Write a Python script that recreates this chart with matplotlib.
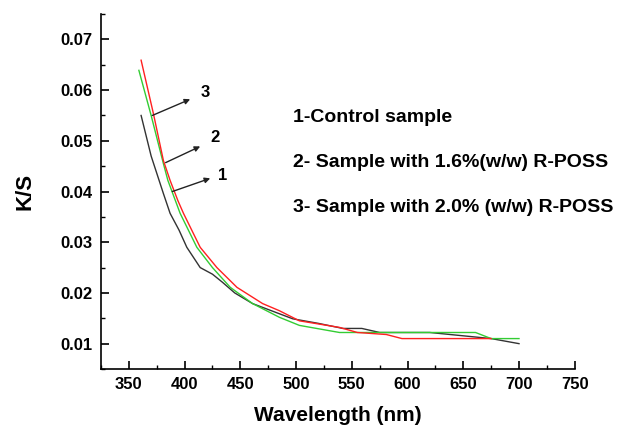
import matplotlib
matplotlib.use("Agg")
import matplotlib.pyplot as plt
from matplotlib.ticker import MultipleLocator

plt.rcParams['font.family'] = ['Liberation Sans', 'DejaVu Sans']

# Data
wl_control = [361, 370, 381, 387, 395, 402, 414, 425, 434, 445, 461, 485, 497, 520, 542, 559, 575, 620, 675, 700]
ks_control = [0.055, 0.047, 0.0396, 0.0357, 0.0324, 0.029, 0.025, 0.0237, 0.0221, 0.0200, 0.0179, 0.0159, 0.0149, 0.0140, 0.0130, 0.0130, 0.0122, 0.0122, 0.0110, 0.0100]

wl_s16 = [359, 370, 381, 385, 396, 411, 425, 441, 461, 485, 503, 539, 661, 675, 700]
ks_s16 = [0.0639, 0.0550, 0.0455, 0.0422, 0.0357, 0.029, 0.025, 0.0211, 0.0179, 0.0152, 0.0136, 0.0122, 0.0122, 0.0110, 0.0110]

wl_s20 = [361, 372, 381, 387, 394, 399, 414, 429, 447, 470, 485, 503, 539, 555, 581, 595, 675]
ks_s20 = [0.0659, 0.0554, 0.0461, 0.0422, 0.0382, 0.0357, 0.029, 0.025, 0.0211, 0.0179, 0.0165, 0.0145, 0.0132, 0.0122, 0.0118, 0.0110, 0.0110]

legend_lines = ["1-Control sample",
                "2- Sample with 1.6%(w/w) R-POSS",
                "3- Sample with 2.0% (w/w) R-POSS"]

x_ticks = [350, 400, 450, 500, 550, 600, 650, 700, 750]
y_ticks = [0.01, 0.02, 0.03, 0.04, 0.05, 0.06, 0.07]

fig = plt.figure(figsize=(6.18, 4.26), dpi=100)
ax = fig.add_axes([0.1634, 0.1338, 0.930 - 0.1634, 0.967 - 0.1338])

ax.plot(wl_control, ks_control, color='#333333', lw=1.0)
ax.plot(wl_s16, ks_s16, color='#33cc33', lw=1.0)
ax.plot(wl_s20, ks_s20, color='#ff2020', lw=1.0)

ax.set_xlim(325, 750)
ax.set_ylim(0.005, 0.075)
ax.set_xticks(x_ticks)
ax.set_yticks(y_ticks)
ax.xaxis.set_minor_locator(MultipleLocator(25))
ax.yaxis.set_minor_locator(MultipleLocator(0.005))
ax.set_yticklabels([f"{v:.2f}" for v in y_ticks])
ax.tick_params(direction='in', which='major', length=6, width=1.2, labelsize=12)
ax.tick_params(direction='in', which='minor', length=3, width=1.0)
ax.tick_params(axis='y', pad=6)
ax.tick_params(axis='x', pad=6)
for lab in ax.get_xticklabels() + ax.get_yticklabels():
    lab.set_fontweight('bold')
ax.spines['top'].set_visible(False)
ax.spines['right'].set_visible(False)
ax.spines['left'].set_linewidth(1.2)
ax.spines['bottom'].set_linewidth(1.2)

ax.set_xlabel("Wavelength (nm)", fontsize=15, fontweight='bold', labelpad=10)
ax.set_ylabel("K/S", fontsize=16, fontweight='bold', labelpad=18)

# Curve annotations
arrows = [("3", (371, 0.055), (405, 0.0582), (414, 0.0595)),
          ("2", (383, 0.0457), (414, 0.0489), (423, 0.0507)),
          ("1", (389, 0.0400), (423, 0.0426), (430, 0.0432))]
for label, start, end, tpos in arrows:
    ax.annotate("", xy=end, xytext=start,
                arrowprops=dict(arrowstyle='-|>', color='#222222', lw=1.0,
                                mutation_scale=8, shrinkA=0, shrinkB=0))
    ax.text(tpos[0], tpos[1], label, fontsize=12, fontweight='bold',
            ha='left', va='center')

for i, t in enumerate(legend_lines):
    ax.text(497, 0.0546 - i * 0.0089, t, fontsize=14, fontweight='bold',
            ha='left', va='center')

fig.savefig("out.png", dpi=100)
